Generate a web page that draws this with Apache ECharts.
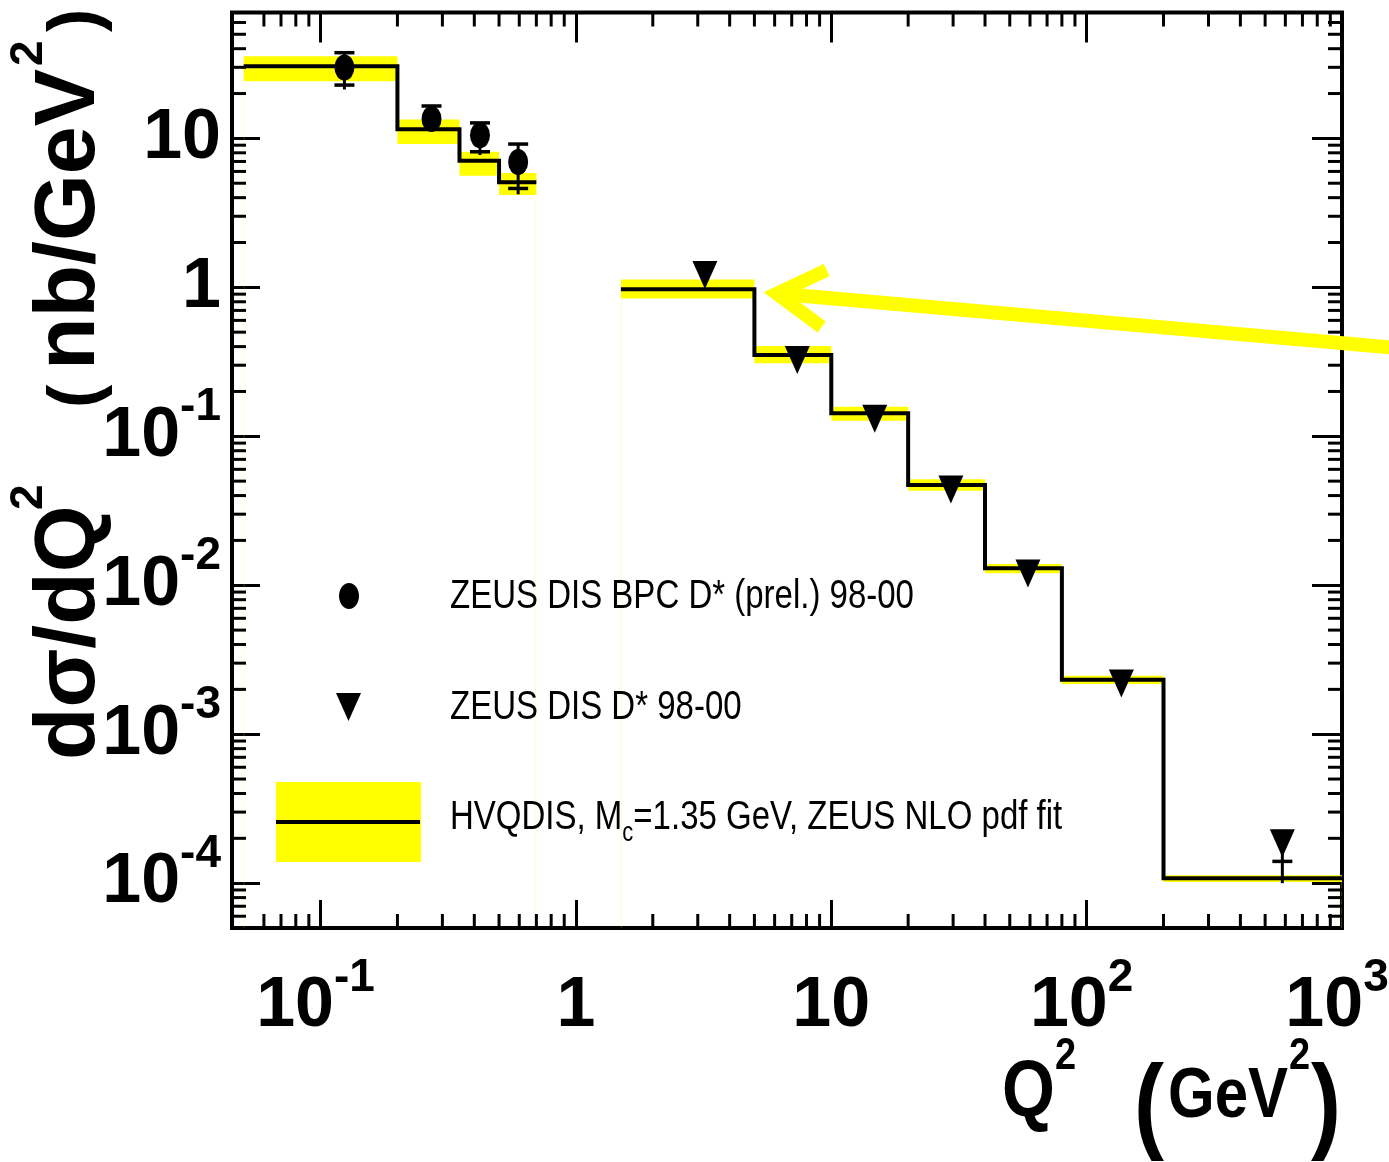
<!DOCTYPE html>
<html>
<head>
<meta charset="utf-8">
<script src="https://cdn.jsdelivr.net/npm/echarts@6/dist/echarts.min.js"></script>
<style>html,body{margin:0;padding:0;background:#fff}#c{width:1389px;height:1162px}</style>
</head>
<body>
<div id="c"></div>
<script>
// ---------------- data ----------------
const xRange = [0.045, 1000];
const yRange = [5e-5, 70];

const xTickValues = [0.1, 1, 10, 100, 1000];
const xTickLabels = [['10', '-1'], ['1', ''], ['10', ''], ['10', '2'], ['10', '3']];
const yTickValues = [1e-4, 1e-3, 1e-2, 0.1, 1, 10];
const yTickLabels = [['10', '-4'], ['10', '-3'], ['10', '-2'], ['10', '-1'], ['1', ''], ['10', '']];

const xMinorTicks = [0.06, 0.07, 0.08, 0.09,
  0.2, 0.3, 0.4, 0.5, 0.6, 0.7, 0.8, 0.9,
  2, 3, 4, 5, 6, 7, 8, 9,
  20, 30, 40, 50, 60, 70, 80, 90,
  200, 300, 400, 500, 600, 700, 800, 900];
const yMinorTicks = [6e-5, 7e-5, 8e-5, 9e-5,
  2e-4, 3e-4, 4e-4, 5e-4, 6e-4, 7e-4, 8e-4, 9e-4,
  2e-3, 3e-3, 4e-3, 5e-3, 6e-3, 7e-3, 8e-3, 9e-3,
  0.02, 0.03, 0.04, 0.05, 0.06, 0.07, 0.08, 0.09,
  0.2, 0.3, 0.4, 0.5, 0.6, 0.7, 0.8, 0.9,
  2, 3, 4, 5, 6, 7, 8, 9,
  20, 30, 40, 50, 60];

// HVQDIS prediction, BPC Q2 bins
const bpcBinEdges = [0.05, 0.2, 0.35, 0.5, 0.7];
const bpcTheory = [30.5, 11.5, 7.08, 5.07];
const bpcTheoryLow = [24.2, 9.16, 5.61, 4.16];
const bpcTheoryHigh = [35.6, 13.4, 8.13, 5.85];

// HVQDIS prediction, DIS Q2 bins
const disBinEdges = [1.5, 5, 10, 20, 40, 80, 200, 1000];
const disTheory = [0.970, 0.351, 0.1426, 0.0471, 0.0130, 0.00232, 1.08e-4];
const disTheoryLow = [0.843, 0.309, 0.127, 0.0431, 0.01205, 0.00217, 1.02e-4];
const disTheoryHigh = [1.13, 0.404, 0.158, 0.0514, 0.0139, 0.00247, 1.13e-4];

// ZEUS DIS BPC D* (prel.) 98-00
const bpcQ2 = [0.124, 0.272, 0.421, 0.594];
const bpcXsec = [29.9, 13.5, 10.5, 6.94];
const bpcErrLow = [21.3, 12.0, 7.73, 4.21];
const bpcErrHigh = [37.6, 16.5, 12.7, 9.16];
const bpcCapLow = [22.8, null, 8.13, 4.61];
const bpcCapHigh = [37.6, 16.5, 12.7, 9.16];

// ZEUS DIS D* 98-00
const disQ2 = [3.20, 7.36, 14.8, 29.4, 58.9, 136.8, 584];
const disXsec = [1.21, 0.325, 0.131, 0.0440, 0.01197, 0.00219, 1.85e-4];
const disErrLow = [1.12, 0.301, 0.121, 0.0407, 0.0111, 0.00203, 1.0e-4];
const disErrHigh = [1.31, 0.351, 0.142, 0.0476, 0.0129, 0.00236, 2.2e-4];
const disCapLow = [null, null, null, null, null, null, 1.40e-4];
const disCapHigh = [null, null, null, null, null, null, null];

// yellow arrow annotation (data coordinates)
const arrowShaft = [[2037, 0.3795], [6.11, 0.909]];
const arrowHead = [[9.59, 1.306], [6.11, 0.909], [9.17, 0.5417]];

// ---------------- helpers ----------------
const SANS = '"Liberation Sans", Arial, Helvetica, sans-serif';
const LABEL_SIZE = 70;
const SUP_SIZE = 46;

function tickLabel(values, labels) {
  return function (v) {
    for (let i = 0; i < values.length; i++) {
      if (Math.abs(Math.log10(v) - Math.log10(values[i])) < 1e-6) {
        const l = labels[i];
        return '{b|' + l[0] + '}' + (l[1] ? '{s|' + l[1] + '}' : '');
      }
    }
    return '';
  };
}
function labelRich(supPadRight) {
  return {
    b: { fontFamily: SANS, fontWeight: 'bold', fontSize: LABEL_SIZE, lineHeight: 104, color: '#000' },
    s: { fontFamily: SANS, fontWeight: 'bold', fontSize: SUP_SIZE, lineHeight: 46, verticalAlign: 'top', color: '#000', padding: [0, supPadRight, 0, 0] }
  };
}

function stepData(edges, vals) {
  const pts = vals.map((v, i) => [edges[i], v]);
  pts.push([edges[edges.length - 1], vals[vals.length - 1]]);
  return pts;
}
function bandData(edges, lo, hi) {
  return lo.map((l, i) => {
    let flag = 0;
    if (i === 0) flag |= 1;
    if (i === lo.length - 1) flag |= 2;
    return [edges[i], edges[i + 1], l, hi[i], flag];
  });
}
function errData(x, y, lo, hi, capLo, capHi) {
  return x.map((q, i) => [q, y[i], lo[i], hi[i], capLo[i] || 0, capHi[i] || 0]);
}

const tickStyle = { stroke: '#000', lineWidth: 3 };

function xAxisCfg(pos, len, showLabel) {
  return {
    type: 'log', logBase: 10, min: xRange[0], max: xRange[1], position: pos,
    splitLine: { show: false }, axisLine: { show: false },
    axisTick: { show: true, inside: true, length: len, lineStyle: { color: '#000', width: 3 } },
    axisLabel: showLabel ? {
      show: true, margin: 27, formatter: tickLabel(xTickValues, xTickLabels), rich: labelRich(10)
    } : { show: false }
  };
}
function yAxisCfg(pos, len, showLabel) {
  return {
    type: 'log', logBase: 10, min: yRange[0], max: yRange[1], position: pos,
    splitLine: { show: false }, axisLine: { show: false },
    axisTick: { show: true, inside: true, length: len, lineStyle: { color: '#000', width: 3 } },
    axisLabel: showLabel ? {
      show: true, margin: 11, formatter: tickLabel(yTickValues, yTickLabels), rich: labelRich(0)
    } : { show: false }
  };
}

// text element: origin at baseline (x, yb)
function T(x, yb, text, size, opt) {
  opt = opt || {};
  const font = (opt.bold ? 'bold ' : '') + size + 'px ' + SANS;
  return {
    type: 'text', x: x, y: yb, scaleY: opt.sy || 1, z: 60, silent: true,
    style: {
      text: text, x: 0, y: -0.3465 * size, fill: '#000', font: font,
      fontSize: size, fontWeight: opt.bold ? 'bold' : 'normal', fontFamily: SANS,
      align: 'left', textAlign: 'left',
      verticalAlign: 'middle', textVerticalAlign: 'middle', rich: opt.rich
    }
  };
}

// ---------------- chart ----------------
const chart = echarts.init(document.getElementById('c'), null, { renderer: 'canvas', width: 1389, height: 1162 });

const option = {
  animation: false,
  backgroundColor: '#ffffff',
  grid: {
    left: 232, top: 12.5, width: 1110, height: 915.5,
    show: true, borderColor: '#000', borderWidth: 4, backgroundColor: 'rgba(0,0,0,0)',
    containLabel: false, outerBoundsMode: 'none'
  },
  xAxis: [xAxisCfg('bottom', 28, true), xAxisCfg('top', 30, false)],
  yAxis: [yAxisCfg('left', 28, true), yAxisCfg('right', 30, false)],
  series: [
    // yellow uncertainty band of HVQDIS
    {
      type: 'custom', name: 'HVQDIS band', z: 1, clip: true,
      data: bandData(bpcBinEdges, bpcTheoryLow, bpcTheoryHigh).concat(bandData(disBinEdges, disTheoryLow, disTheoryHigh)),
      encode: { x: [0, 1], y: [2, 3] },
      renderItem: function (params, api) {
        const x0 = api.value(0), x1 = api.value(1), lo = api.value(2), hi = api.value(3), flag = api.value(4);
        const a = api.coord([x0, hi]), b = api.coord([x1, lo]);
        const cs = params.coordSys;
        const bottom = cs.y + cs.height;
        const ch = [{ type: 'rect', shape: { x: a[0], y: a[1], width: b[0] - a[0], height: b[1] - a[1] }, style: { fill: '#ffff00' } }];
        if (flag & 1) ch.push({ type: 'line', shape: { x1: a[0] + 0.5, y1: b[1], x2: a[0] + 0.5, y2: bottom }, style: { stroke: 'rgba(255,255,0,0.22)', lineWidth: 1 } });
        if (flag & 2) ch.push({ type: 'line', shape: { x1: b[0] - 0.5, y1: b[1], x2: b[0] - 0.5, y2: bottom }, style: { stroke: 'rgba(255,255,0,0.22)', lineWidth: 1 } });
        return { type: 'group', children: ch };
      }
    },
    // HVQDIS central histogram
    {
      type: 'line', name: 'HVQDIS BPC', z: 3, data: stepData(bpcBinEdges, bpcTheory), step: 'end',
      symbol: 'none', lineStyle: { color: '#000', width: 4, join: 'miter', cap: 'butt' }
    },
    {
      type: 'line', name: 'HVQDIS DIS', z: 3, data: stepData(disBinEdges, disTheory), step: 'end',
      symbol: 'none', lineStyle: { color: '#000', width: 4, join: 'miter', cap: 'butt' }
    },
    // error bars
    {
      type: 'custom', name: 'errors', z: 4, clip: false,
      data: errData(bpcQ2, bpcXsec, bpcErrLow, bpcErrHigh, bpcCapLow, bpcCapHigh)
        .concat(errData(disQ2, disXsec, disErrLow, disErrHigh, disCapLow, disCapHigh)),
      encode: { x: 0, y: [1, 2, 3] },
      renderItem: function (params, api) {
        const x = api.value(0);
        const pl = api.coord([x, api.value(2)]), ph = api.coord([x, api.value(3)]);
        const ch = [{ type: 'line', shape: { x1: pl[0], y1: pl[1], x2: ph[0], y2: ph[1] }, style: { stroke: '#000', lineWidth: 3 } }];
        [api.value(4), api.value(5)].forEach(function (c) {
          if (c > 0) {
            const p = api.coord([x, c]);
            ch.push({ type: 'line', shape: { x1: p[0] - 10, y1: p[1], x2: p[0] + 10, y2: p[1] }, style: { stroke: '#000', lineWidth: 3.5 } });
          }
        });
        return { type: 'group', children: ch };
      }
    },
    {
      type: 'scatter', name: 'ZEUS DIS BPC D* (prel.) 98-00', z: 5,
      data: bpcQ2.map((q, i) => [q, bpcXsec[i]]),
      symbol: 'circle', symbolSize: [20, 26], itemStyle: { color: '#000', opacity: 1 }
    },
    {
      type: 'scatter', name: 'ZEUS DIS D* 98-00', z: 5,
      data: disQ2.map((q, i) => [q, disXsec[i]]),
      symbol: 'triangle', symbolRotate: 180, symbolSize: [25, 28], itemStyle: { color: '#000', opacity: 1 }
    },
    // minor ticks on all four sides
    {
      type: 'custom', name: 'minor ticks', z: 6, clip: false, silent: true,
      data: xMinorTicks.map(v => [v, 1, 0]).concat(yMinorTicks.map(v => [1, v, 1])),
      encode: { x: 0, y: 1 },
      renderItem: function (params, api) {
        const cs = params.coordSys;
        const L = 14;
        if (api.value(2) === 0) {
          const px = api.coord([api.value(0), 1])[0];
          return { type: 'group', children: [
            { type: 'line', shape: { x1: px, y1: cs.y + cs.height, x2: px, y2: cs.y + cs.height - L }, style: tickStyle },
            { type: 'line', shape: { x1: px, y1: cs.y, x2: px, y2: cs.y + L }, style: tickStyle }
          ] };
        }
        const py = api.coord([1, api.value(1)])[1];
        return { type: 'group', children: [
          { type: 'line', shape: { x1: cs.x, y1: py, x2: cs.x + L, y2: py }, style: tickStyle },
          { type: 'line', shape: { x1: cs.x + cs.width, y1: py, x2: cs.x + cs.width - L, y2: py }, style: tickStyle }
        ] };
      }
    },
    // yellow arrow
    {
      type: 'custom', name: 'arrow', z: 20, clip: false, silent: true,
      data: [[1, 1]], encode: { x: 0, y: 1 },
      renderItem: function (params, api) {
        const shaft = arrowShaft.map(p => api.coord(p));
        const head = arrowHead.map(p => api.coord(p));
        return { type: 'group', children: [
          { type: 'polyline', shape: { points: shaft }, style: { stroke: '#ffff00', lineWidth: 14, fill: null, lineCap: 'butt' } },
          { type: 'polyline', shape: { points: head }, style: { stroke: '#ffff00', lineWidth: 13.5, fill: null, lineJoin: 'miter', lineCap: 'butt', miterLimit: 10 } }
        ] };
      }
    }
  ],
  graphic: [
    // legend
    { type: 'ellipse', shape: { cx: 349, cy: 596, rx: 10, ry: 13 }, style: { fill: '#000' }, z: 60 },
    { type: 'polygon', shape: { points: [[336, 693], [361, 693], [348.5, 721]] }, style: { fill: '#000' }, z: 60 },
    { type: 'rect', shape: { x: 276, y: 782, width: 145, height: 80 }, style: { fill: '#ffff00' }, z: 60 },
    { type: 'line', shape: { x1: 276, y1: 822, x2: 420, y2: 822 }, style: { stroke: '#000', lineWidth: 4 }, z: 61 },
    T(450, 611, 'ZEUS DIS BPC D* (prel.) 98-00', 33, { sy: 1.22 }),
    T(450, 722, 'ZEUS DIS D* 98-00', 33, { sy: 1.22 }),
    T(450, 832, '{n|HVQDIS, M}{c|c}{n|=1.35 GeV, ZEUS NLO pdf fit}', 33, {
      sy: 1.22,
      rich: {
        n: { fontSize: 33, fontFamily: SANS, lineHeight: 48, color: '#000' },
        c: { fontSize: 22, fontFamily: SANS, lineHeight: 22, verticalAlign: 'bottom', color: '#000' }
      }
    }),
    // x axis title
    T(1002, 1122, 'Q', 68, { bold: true, sy: 1.17 }),
    T(1055, 1072, '2', 38, { bold: true, sy: 1.17 }),
    T(1134, 1146, '(', 90, { bold: true, sy: 1.17 }),
    T(1168, 1122, 'GeV', 60, { bold: true, sy: 1.17 }),
    T(1289, 1072, '2', 38, { bold: true, sy: 1.17 }),
    T(1311, 1146, ')', 90, { bold: true, sy: 1.17 }),
    // y axis title (rotated)
    {
      type: 'group', x: 100, y: 760, rotation: Math.PI / 2, z: 60,
      children: [
        T(0, 0, 'd\u03c3/dQ', 86, { bold: true }),
        T(250, -55, '2', 46, { bold: true }),
        T(352, 2, '(', 70, { bold: true }),
        T(390, 0, 'nb/GeV', 86, { bold: true }),
        T(694, -55, '2', 46, { bold: true }),
        T(728, 2, ')', 70, { bold: true })
      ]
    }
  ]
};
chart.setOption(option);
</script>
</body>
</html>
